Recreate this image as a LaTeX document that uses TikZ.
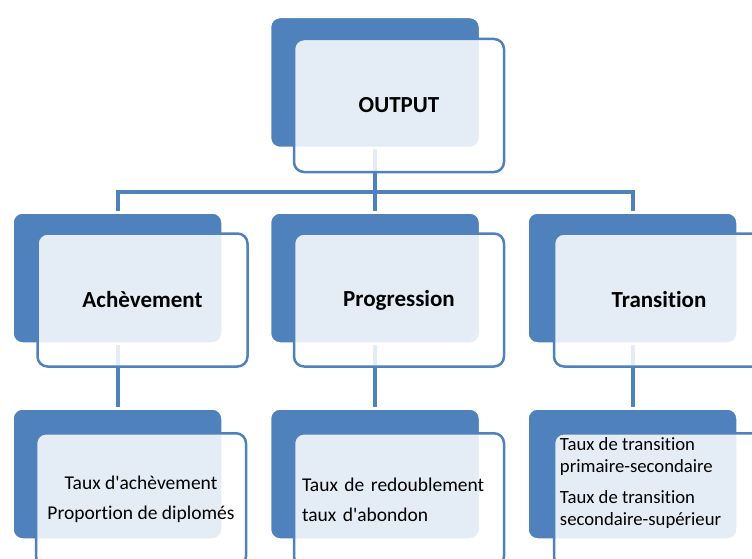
\documentclass[tikz,border=0pt]{standalone}
\usepackage{fontspec}
\setmainfont{Carlito}[Ligatures={TeXOff,NoCommon}]
\definecolor{acc}{HTML}{4F81BD}
\pgfdeclarelayer{bg}
\pgfsetlayers{bg,main}
\tikzset{
  darkbox/.style={rectangle, rounded corners=10pt, fill=acc, draw=white, line width=2.5pt,
    minimum width=210pt, minimum height=131pt, inner sep=0pt},
  frontbox/.style={rectangle, rounded corners=10pt, fill=white, fill opacity=0.85,
    draw=acc, draw opacity=1, text opacity=1, line width=2.5pt,
    minimum width=210pt, minimum height=133pt, inner sep=0pt},
  titlefont/.style={font=\bfseries\fontsize{23}{28}\selectfont},
  bodyfont/.style={font=\fontsize{19.5}{23.5}\selectfont},
  smallbody/.style={font=\fontsize{18.7}{22.5}\selectfont},
  conn/.style={draw=acc, line width=4pt},
}
\begin{document}
\begin{tikzpicture}[x=1pt,y=-1pt]
\useasboundingbox (0,0) rectangle (752,559);
\clip (0,0) rectangle (752,559);
% level 0
\node[darkbox] (d0) at (375,82.5) {};
\node[frontbox, titlefont] (f0) at (399,105.5) {OUTPUT};
% level 1
\node[darkbox] (d1) at (117.5,278) {};
\node[frontbox, titlefont] (f1) at (142.5,300) {Achèvement};
\node[darkbox] (d2) at (375,278) {};
\node[frontbox, titlefont] (f2) at (399,300) {Progression};
\node[darkbox] (d3) at (632.5,278) {};
\node[frontbox, titlefont] (f3) at (659,300) {Transition};
% level 2
\node[darkbox] (e1) at (117.5,474) {};
\node[frontbox, bodyfont, align=center] (g1) at (141,499.75)
  {Taux d'achèvement\\[6.5pt]Proportion de diplomés};
\node[darkbox] (e2) at (375,474) {};
\node[frontbox, bodyfont, align=left, text width=194pt] (g2) at (399,499.75)
  {Taux de redoublement\\[6.5pt]taux d'abondon};
\node[darkbox] (e3) at (632.5,474) {};
\node[frontbox] (g3) at (659,499.75) {};
\node[smallbody, align=left, anchor=north west, inner sep=0pt] (t3)
  at ([xshift=7pt,yshift=-5pt]g3.north west)
  {Taux de transition\\primaire-secondaire\\[8pt]Taux de transition\\secondaire-supérieur};
\coordinate (bus) at (375,192);
\begin{pgfonlayer}{bg}
  \draw[conn] (d0.south) -- (d2.north);
  \draw[conn] (d1.north) -- (d1.north |- bus) -- (d3.north |- bus) -- (d3.north);
  \draw[conn] (d1.south) -- (e1.north);
  \draw[conn] (d2.south) -- (e2.north);
  \draw[conn] (d3.south) -- (e3.north);
\end{pgfonlayer}
\end{tikzpicture}
\end{document}
